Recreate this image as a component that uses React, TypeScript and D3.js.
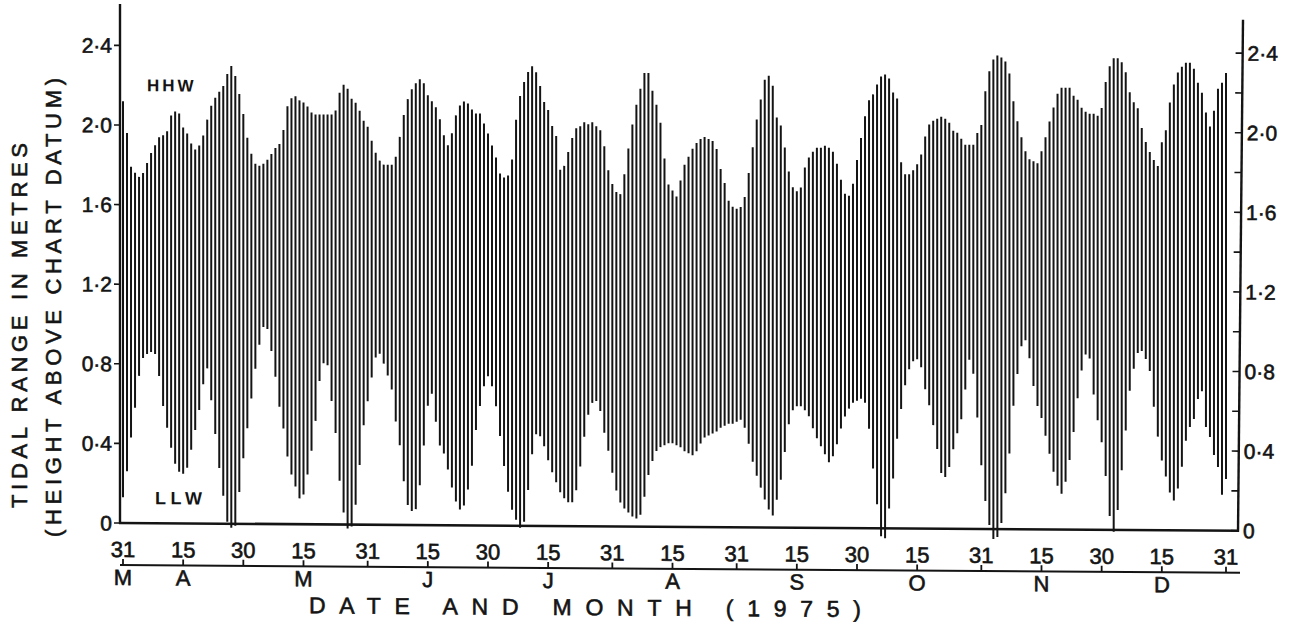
import React from "react";
import * as d3 from "d3";

// ---- data (one value per day from 31 Mar 1975) ----
const START = "1975-03-31";
const END = "1975-12-31";

const hhw = [
  2.12, 1.96, 1.79, 1.76, 1.74, 1.76, 1.81, 1.86, 1.9, 1.94,
  1.95, 1.97, 2.05, 2.07, 2.06, 1.99, 1.96, 1.91, 1.88, 1.9,
  1.95, 2.03, 2.1, 2.14, 2.17, 2.2, 2.26, 2.3, 2.25, 2.16,
  2.06, 1.94, 1.86, 1.81, 1.8, 1.81, 1.83, 1.86, 1.89, 1.91,
  1.98, 2.1, 2.14, 2.15, 2.13, 2.12, 2.1, 2.07, 2.06, 2.06,
  2.06, 2.06, 2.06, 2.08, 2.17, 2.21, 2.19, 2.14, 2.12, 2.08,
  2.03, 2.0, 1.93, 1.87, 1.83, 1.81, 1.81, 1.81, 1.85, 1.95,
  2.06, 2.14, 2.19, 2.22, 2.24, 2.22, 2.16, 2.13, 2.1, 2.04,
  1.96, 1.91, 1.97, 2.06, 2.11, 2.13, 2.12, 2.09, 2.07, 2.07,
  2.02, 1.97, 1.91, 1.85, 1.77, 1.75, 1.76, 1.84, 2.04, 2.16,
  2.23, 2.28, 2.31, 2.28, 2.21, 2.13, 2.09, 2.01, 1.96, 1.79,
  1.81, 1.88, 1.95, 2.0, 2.01, 2.03, 2.02, 2.03, 2.01, 1.99,
  1.91, 1.79, 1.72, 1.68, 1.67, 1.77, 1.9, 2.02, 2.12, 2.2,
  2.28, 2.28, 2.19, 2.12, 2.03, 1.85, 1.72, 1.69, 1.66, 1.74,
  1.82, 1.86, 1.9, 1.93, 1.95, 1.96, 1.95, 1.94, 1.9, 1.8,
  1.73, 1.64, 1.61, 1.6, 1.61, 1.66, 1.78, 1.91, 2.05, 2.15,
  2.25, 2.27, 2.22, 2.06, 2.02, 1.91, 1.79, 1.71, 1.69, 1.71,
  1.81, 1.86, 1.89, 1.91, 1.91, 1.92, 1.91, 1.89, 1.83, 1.75,
  1.68, 1.67, 1.73, 1.85, 1.96, 2.07, 2.15, 2.18, 2.23, 2.27,
  2.28, 2.26, 2.19, 2.16, 1.84, 1.78, 1.78, 1.8, 1.83, 1.88,
  1.97, 2.03, 2.05, 2.06, 2.07, 2.06, 2.04, 2.0, 1.99, 1.96,
  1.93, 1.93, 1.93, 1.99, 2.03, 2.2, 2.3, 2.36, 2.38, 2.37,
  2.35, 2.29, 2.15, 2.05, 1.97, 1.9, 1.86, 1.85, 1.84, 1.9,
  1.97, 2.05, 2.12, 2.19, 2.22, 2.22, 2.22, 2.18, 2.16, 2.12,
  2.1, 2.09, 2.09, 2.08, 2.12, 2.25, 2.33, 2.37, 2.37, 2.35,
  2.3, 2.2, 2.15, 2.12, 2.02, 1.95, 1.9, 1.86, 1.83, 1.95,
  2.01, 2.15, 2.24, 2.3, 2.33, 2.35, 2.35, 2.32, 2.25, 2.2,
  2.1, 2.03, 2.11, 2.22, 2.25, 2.3,
];

const llw = [
  0.13, 0.26, 0.43, 0.58, 0.74, 0.83, 0.85, 0.86, 0.85, 0.74,
  0.59, 0.48, 0.38, 0.3, 0.26, 0.25, 0.28, 0.37, 0.47, 0.57,
  0.7, 0.78, 0.62, 0.45, 0.28, 0.14, 0.01, -0.02, -0.01, 0.16,
  0.33, 0.48, 0.63, 0.78, 0.9, 0.99, 0.98, 0.87, 0.74, 0.59,
  0.48, 0.34, 0.25, 0.19, 0.13, 0.15, 0.25, 0.37, 0.52, 0.72,
  0.81, 0.8, 0.62, 0.46, 0.22, 0.06, -0.02, -0.01, 0.1, 0.3,
  0.5, 0.62, 0.74, 0.84, 0.86, 0.81, 0.75, 0.68, 0.52, 0.4,
  0.22, 0.1, 0.07, 0.08, 0.2, 0.4, 0.6, 0.66, 0.52, 0.4,
  0.36, 0.28, 0.19, 0.12, 0.08, 0.1, 0.18, 0.3, 0.48, 0.6,
  0.7, 0.75, 0.7, 0.6, 0.45, 0.3, 0.17, 0.08, 0.03, -0.01,
  0.02, 0.18, 0.36, 0.46, 0.45, 0.4, 0.33, 0.27, 0.22, 0.17,
  0.14, 0.12, 0.12, 0.18, 0.3, 0.45, 0.56, 0.62, 0.63, 0.58,
  0.47, 0.38, 0.27, 0.18, 0.12, 0.09, 0.07, 0.05, 0.04, 0.06,
  0.15, 0.26, 0.33, 0.38, 0.4, 0.41, 0.42, 0.42, 0.41, 0.4,
  0.38, 0.37, 0.36, 0.38, 0.42, 0.45, 0.46, 0.47, 0.48, 0.5,
  0.51, 0.52, 0.52, 0.53, 0.54, 0.5, 0.42, 0.33, 0.26, 0.2,
  0.14, 0.09, 0.06, 0.14, 0.24, 0.38, 0.52, 0.59, 0.61, 0.61,
  0.59, 0.56, 0.5, 0.45, 0.41, 0.37, 0.33, 0.36, 0.42, 0.5,
  0.56, 0.6, 0.63, 0.64, 0.65, 0.63, 0.5, 0.3, 0.12, -0.04,
  -0.05, 0.1, 0.25, 0.45, 0.6, 0.72, 0.8, 0.84, 0.85, 0.81,
  0.7, 0.62, 0.52, 0.4, 0.28, 0.26, 0.31, 0.4, 0.48, 0.55,
  0.7, 0.85, 0.78, 0.56, 0.32, 0.14, 0.02, -0.05, -0.04, 0.03,
  0.18, 0.38, 0.62, 0.78, 0.92, 0.95, 0.86, 0.72, 0.62, 0.56,
  0.47, 0.38, 0.29, 0.22, 0.18, 0.24, 0.35, 0.49, 0.66, 0.8,
  0.88, 0.86, 0.68, 0.55, 0.44, 0.27, 0.07, -0.01, 0.1, 0.3,
  0.5, 0.7, 0.81, 0.89, 0.9, 0.86, 0.8, 0.62, 0.47, 0.35,
  0.27, 0.19, 0.15, 0.21, 0.32, 0.45, 0.52, 0.56, 0.66, 0.7,
  0.52, 0.47, 0.38, 0.32, 0.18, 0.26,
];

const dateTicks = [
  "1975-03-31", "1975-04-15", "1975-04-30", "1975-05-15", "1975-05-31",
  "1975-06-15", "1975-06-30", "1975-07-15", "1975-07-31", "1975-08-15",
  "1975-08-31", "1975-09-15", "1975-09-30", "1975-10-15", "1975-10-31",
  "1975-11-15", "1975-11-30", "1975-12-15", "1975-12-31",
];
const monthDates = [
  "1975-03-31", "1975-04-15", "1975-05-15", "1975-06-15", "1975-07-15",
  "1975-08-15", "1975-09-15", "1975-10-15", "1975-11-15", "1975-12-15",
];
const monthLabels = ["M", "A", "M", "J", "J", "A", "S", "O", "N", "D"];
const yLabelled = [0, 0.4, 0.8, 1.2, 1.6, 2.0, 2.4];
const yMinor = [0, 0.2, 0.4, 0.6, 0.8, 1.0, 1.2, 1.4, 1.6, 1.8, 2.0, 2.2, 2.4];

const fmt = (v: number) => (v === 0 ? "0" : v.toFixed(1).replace(".", "\u00B7"));

export default function App() {
  const W = 1295;
  const H = 625;
  const parse = d3.utcParse("%Y-%m-%d");
  const start = parse(START) as Date;
  const end = parse(END) as Date;

  const x = d3.scaleUtc().domain([start, end]).range([123, 1226]);
  const y = d3.scaleLinear().domain([0, 2.6]).range([523, 523 - 2.6 * 199]);

  const days = hhw.map((_, i) => d3.utcDay.offset(start, i));
  const font = "'Liberation Sans', Arial, Helvetica, sans-serif";
  const ink = "#141414";
  const t = 0.0069; // scan skew
  const y0 = y(0);
  const yTop = 4;
  const leftX = 120;
  const rightAxisX = (yy: number) => 1238 + ((y0 - yy) / (y0 - yTop)) * 5;
  const txt = { fill: ink, stroke: ink, strokeWidth: 0.6 };

  return (
    <svg
      width={W}
      height={H}
      viewBox={`0 0 ${W} ${H}`}
      style={{ position: "absolute", left: 0, top: 0, display: "block" }}
      fontFamily={font}
    >
      <rect width={W} height={H} fill="#ffffff" />
      <g transform={`matrix(1 ${t} 0 1 0 ${-leftX * t})`}>
        {/* daily range lines */}
        <g stroke={ink} strokeWidth={2}>
          {days.map((d, i) => (
            <line key={i} x1={x(d)} x2={x(d)} y1={y(llw[i])} y2={y(hhw[i])} />
          ))}
        </g>

        {/* frame */}
        <line x1={leftX} x2={leftX} y1={yTop} y2={y0 + 1} stroke={ink} strokeWidth={2.4} />
        <line x1={rightAxisX(yTop)} x2={rightAxisX(y0)} y1={yTop + 8} y2={y0 + 1} stroke={ink} strokeWidth={2.4} />
        <line x1={leftX - 1} x2={rightAxisX(y0) + 1} y1={y0} y2={y0} stroke={ink} strokeWidth={2.6} />

        {/* left axis */}
        {yLabelled.map((v) => (
          <g key={"l" + v}>
            <line x1={leftX - 6} x2={leftX} y1={y(v)} y2={y(v)} stroke={ink} strokeWidth={1.6} />
            <text x={112} y={y(v)} dy="0.36em" textAnchor="end" fontSize={21} {...txt}>
              {fmt(v)}
            </text>
          </g>
        ))}

        {/* right axis */}
        {yMinor.map((v) => (
          <line
            key={"r" + v}
            x1={rightAxisX(y(v)) - 7}
            x2={rightAxisX(y(v))}
            y1={y(v)}
            y2={y(v)}
            stroke={ink}
            strokeWidth={1.6}
          />
        ))}
        {yLabelled.map((v) => (
          <text key={"rl" + v} x={rightAxisX(y(v)) + 5} y={y(v)} dy="0.36em" fontSize={21} {...txt}>
            {fmt(v)}
          </text>
        ))}

        {/* HHW / LLW */}
        <text x={147} y={91} fontSize={17} fontWeight="bold" letterSpacing={3} fill={ink}>
          HHW
        </text>
        <text x={155} y={504} fontSize={18} fontWeight="bold" letterSpacing={4.5} fill={ink}>
          LLW
        </text>

        {/* date labels */}
        {dateTicks.map((s) => {
          const d = parse(s) as Date;
          return (
            <text key={"dt" + s} x={x(d)} y={557} textAnchor="middle" fontSize={22} {...txt}>
              {d.getUTCDate()}
            </text>
          );
        })}

        {/* month axis */}
        <line x1={leftX} x2={1240} y1={565} y2={565} stroke={ink} strokeWidth={2} />
        {dateTicks.map((s) => {
          const d = parse(s) as Date;
          return <line key={"mt" + s} x1={x(d)} x2={x(d)} y1={559} y2={565} stroke={ink} strokeWidth={1.8} />;
        })}
        {monthDates.map((s, i) => {
          const d = parse(s) as Date;
          return (
            <text key={"m" + i} x={x(d)} y={585} textAnchor="middle" fontSize={22} {...txt}>
              {monthLabels[i]}
            </text>
          );
        })}

        {/* axis title */}
        <text x={585} y={612} textAnchor="middle" fontSize={23} {...txt} textLength={552} lengthAdjust="spacing">
          DATE AND MONTH (1975)
        </text>
      </g>
      <text
        transform="translate(27 325.5) rotate(-90)"
        textAnchor="middle"
        fontSize={22}
        {...txt}
        textLength={365}
        lengthAdjust="spacing"
      >
        TIDAL RANGE IN METRES
      </text>
      <text
        transform="translate(61 307.5) rotate(-90)"
        textAnchor="middle"
        fontSize={22}
        {...txt}
        textLength={459}
        lengthAdjust="spacing"
      >
        (HEIGHT ABOVE CHART DATUM)
      </text>
    </svg>
  );
}
